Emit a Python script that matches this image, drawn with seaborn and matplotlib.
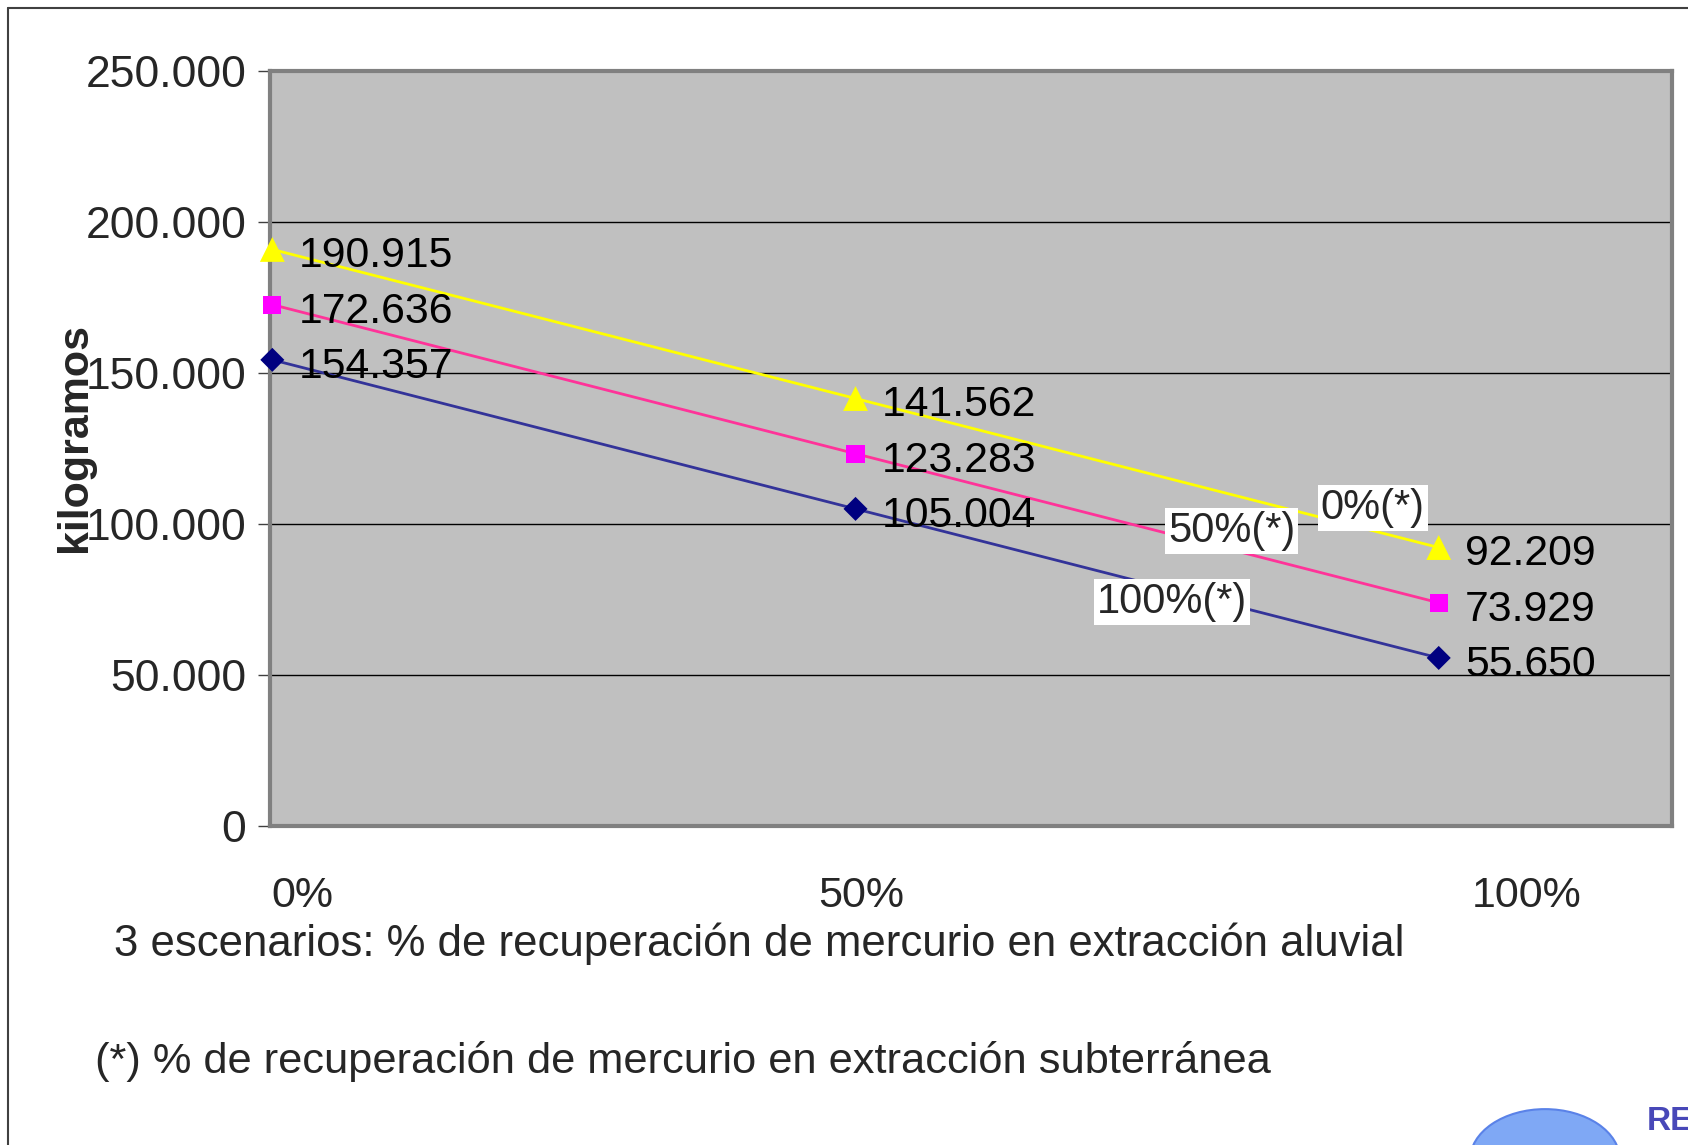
import numpy as np
import pandas as pd
import matplotlib
matplotlib.use("Agg")
import matplotlib.pyplot as plt
import seaborn as sns
from matplotlib.lines import Line2D
from matplotlib.patches import Circle

# escenarios (% de recuperación en extracción aluvial)
escenarios = ["0%", "50%", "100%"]
# kilogramos por escenario de recuperación subterránea
sub_0 = [190915, 141562, 92209]
sub_50 = [172636, 123283, 73929]
sub_100 = [154357, 105004, 55650]
series_names = ["0%(*)", "50%(*)", "100%(*)"]
y_ticks = [0, 50000, 100000, 150000, 200000, 250000]

sns.set_theme(style="white")
plt.rcParams['font.family'] = ['Liberation Sans', 'DejaVu Sans']

rows = []
for name, vals in zip(series_names, [sub_0, sub_50, sub_100]):
    for i, v in enumerate(vals):
        rows.append({"serie": name, "x": i, "kg": v})
df = pd.DataFrame(rows)

line_colors = {"0%(*)": "#FFFF00", "50%(*)": "#FF3399", "100%(*)": "#333399"}
marker_colors = {"0%(*)": "#FFFF00", "50%(*)": "#FF00FF", "100%(*)": "#000080"}
markers = {"0%(*)": "^", "50%(*)": "s", "100%(*)": "D"}
msizes = {"0%(*)": 320, "50%(*)": 170, "100%(*)": 150}

fig = plt.figure(figsize=(16.88, 11.45), dpi=100)
W, H = 1688, 1145
ax = fig.add_axes([270 / W, 1 - 826 / H, (1672 - 270) / W, (826 - 71) / H])
ax.set_facecolor("#C0C0C0")

sns.lineplot(data=df, x="x", y="kg", hue="serie", palette=line_colors,
             linewidth=2, legend=False, ax=ax)
for name in series_names:
    sub = df[df.serie == name]
    sns.scatterplot(data=sub, x="x", y="kg", marker=markers[name], s=msizes[name],
                    color=marker_colors[name], edgecolor="none", legend=False,
                    ax=ax, zorder=4, clip_on=False)
    for _, r in sub.iterrows():
        ax.annotate(f"{r.kg:,.0f}".replace(",", "."), (r.x, r.kg),
                    xytext=(19, -5), textcoords="offset points",
                    ha="left", va="center", fontsize=30.8, color="black")

# etiquetas de serie con fondo blanco
for name, (lx, ly) in zip(series_names, [(1.887, 105300), (1.645, 97700), (1.542, 74200)]):
    ax.text(lx, ly, name, ha="center", va="center", fontsize=30, zorder=5,
            bbox=dict(facecolor="white", edgecolor="none", pad=2))

ax.set_xlim(-0.004, 2.40)
ax.set_ylim(0, 250000)
ax.set_yticks(y_ticks)
ax.set_yticklabels([f"{v:,.0f}".replace(",", ".") for v in y_ticks], fontsize=32)
ax.yaxis.grid(True, color="black", linewidth=1)
ax.set_axisbelow(True)
ax.tick_params(axis="y", length=9, width=1, color="#404040", pad=8, left=True)

# las etiquetas del eje x están desplazadas respecto a los puntos, como en el original
ax.set_xticks([0.052, 1.01, 2.15])
ax.set_xticklabels(escenarios, fontsize=31)
ax.tick_params(axis="x", length=0, pad=36)

for side in ["left", "bottom", "right", "top"]:
    ax.spines[side].set_visible(True)
    ax.spines[side].set_color("#808080")
    ax.spines[side].set_linewidth(3)

ax.set_xlabel("3 escenarios: % de recuperación de mercurio en extracción aluvial",
              fontsize=31.5, labelpad=2)
ax.xaxis.set_label_coords(-0.111, -0.128)
ax.xaxis.label.set_ha("left")
ax.set_ylabel("kilogramos", fontsize=31, fontweight="bold", labelpad=8)
ax.yaxis.set_label_coords(-0.125, 0.515)

fig.text(95 / W, 1 - 1061 / H, "(*) % de recuperación de mercurio en extracción subterránea",
         fontsize=31.2, ha="left", va="center")

# marco exterior
fig.add_artist(Line2D([8 / W, 8 / W], [0, 1 - 8 / H], color="#404040", linewidth=1.5))
fig.add_artist(Line2D([8 / W, 1], [1 - 8 / H, 1 - 8 / H], color="#404040", linewidth=1.5))

# logotipo (aproximado)
fig.add_artist(Circle((1545 / W, 1 - 1160 / H), 75 / W, transform=fig.transFigure,
                      facecolor="#7FA8F5", edgecolor="#5A82E8", linewidth=1.5))
fig.text(1647 / W, 1 - 1122 / H, "RE", fontsize=24, fontweight="bold",
         color="#4848B8", ha="left", va="center")

fig.savefig("out.png", dpi=100)
